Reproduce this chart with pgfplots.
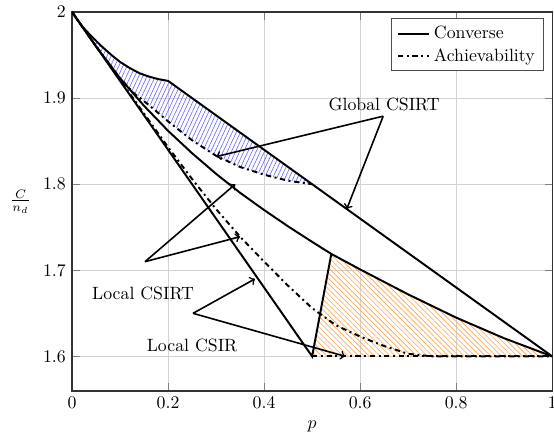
\documentclass[border=0pt]{standalone}
\usepackage{pgfplots}
\pgfplotsset{compat=1.18}
\usetikzlibrary{patterns.meta}
\begin{document}
\begin{tikzpicture}
\begin{axis}[
  name=ax,
  scale only axis,
  width=270pt, height=213pt,
  xmin=0, xmax=1, ymin=1.56, ymax=2,
  xtick={0,0.2,0.4,0.6,0.8,1},
  ytick={1.6,1.7,1.8,1.9,2},
  grid=major,
  major grid style={gray!35, line width=0.5pt},
  axis line style={line width=0.8pt, black!80},
  xlabel={$p$},
  ylabel={$\frac{C}{n_d}$},
  ylabel style={rotate=-90},
  legend style={at={(0.983,0.983)}, anchor=north east, draw=black!70, line width=0.5pt, inner xsep=3pt},
  legend cell align=left,
  legend image code/.code={\draw[#1] (0cm,0cm) -- (0.62cm,0cm);},
  tick align=inside,
]
% blue region
\addplot [draw=none, pattern={Lines[angle=65,distance=2.1pt,line width=0.35pt]}, pattern color=blue!60, forget plot]
 coordinates {(0,2)(0.02,1.984)(0.04,1.972)(0.06,1.961)(0.08,1.951)(0.1,1.942)(0.12,1.935)(0.14,1.929)(0.16,1.925)(0.18,1.922)(0.2,1.92)(0.5,1.80)
 (0.45,1.804)(0.4,1.811)(0.35,1.82)(0.3,1.833)(0.25,1.851)(0.2,1.873)(0.16,1.892)(0.13,1.905)(0.1,1.923)(0.05,1.96)(0,2)} --cycle;
% orange region
\addplot [draw=none, pattern={Lines[angle=-45,distance=2.1pt,line width=0.35pt]}, pattern color=orange!70, forget plot]
 coordinates {(0.5,1.6)(0.54,1.719)(0.6,1.701)(0.7,1.672)(0.8,1.645)(0.9,1.621)(1,1.6)(0.5,1.6)} --cycle;
% global CSIRT converse
\addplot [black, line width=1.1pt] coordinates {(0,2)(0.02,1.984)(0.04,1.972)(0.06,1.961)(0.08,1.951)(0.1,1.942)(0.12,1.935)(0.14,1.929)(0.16,1.925)(0.18,1.922)(0.2,1.92)(1,1.6)};
\addlegendentry{Converse}
% global CSIRT achievability
\addplot [black, line width=1.1pt, dashdotted] coordinates {(0,2)(0.05,1.96)(0.1,1.923)(0.13,1.905)(0.16,1.892)(0.2,1.873)(0.25,1.851)(0.3,1.833)(0.35,1.82)(0.4,1.811)(0.45,1.804)(0.5,1.80)};
\addlegendentry{Achievability}
% local CSIRT converse (middle curve)
\addplot [black, line width=1.1pt, forget plot] coordinates {(0,2)(0.05,1.96)(0.1,1.923)(0.15,1.891)(0.2,1.862)(0.25,1.836)(0.3,1.812)(0.35,1.79)(0.4,1.77)(0.45,1.751)(0.5,1.733)(0.54,1.719)(0.6,1.701)(0.7,1.672)(0.8,1.645)(0.9,1.621)(1,1.6)};
% local CSIRT achievability
\addplot [black, line width=1.1pt, dashdotted, forget plot] coordinates {(0,2)(0.1,1.921)(0.15,1.882)(0.2,1.843)(0.25,1.806)(0.3,1.771)(0.35,1.739)(0.4,1.71)(0.45,1.682)(0.5,1.656)(0.55,1.636)(0.6,1.623)(0.65,1.612)(0.7,1.603)(0.75,1.6)(1,1.6)};
% local CSIR achievability
\addplot [black, line width=1.1pt, dashdotted, forget plot] coordinates {(0.5,1.6)(1,1.6)};
% local CSIR converse
\addplot [black, line width=1.1pt, forget plot] coordinates {(0,2)(0.5,1.6)(0.54,1.719)};
% annotations
\node at (axis cs:0.65,1.893) {Global CSIRT};
\draw[->, line width=0.9pt] (axis cs:0.648,1.879) -- (axis cs:0.30,1.832);
\draw[->, line width=0.9pt] (axis cs:0.648,1.879) -- (axis cs:0.572,1.771);
\node at (axis cs:0.148,1.673) {Local CSIRT};
\draw[->, line width=0.9pt] (axis cs:0.152,1.710) -- (axis cs:0.34,1.80);
\draw[->, line width=0.9pt] (axis cs:0.152,1.710) -- (axis cs:0.35,1.739);
\node at (axis cs:0.25,1.613) {Local CSIR};
\draw[->, line width=0.9pt] (axis cs:0.252,1.650) -- (axis cs:0.381,1.690);
\draw[->, line width=0.9pt] (axis cs:0.252,1.650) -- (axis cs:0.569,1.60);
\end{axis}
\pgfresetboundingbox
\path[use as bounding box] ([shift={(-40.5pt,-25.3pt)}]ax.south west) rectangle ([shift={(1pt,6.75pt)}]ax.north east);
\end{tikzpicture}
\end{document}
